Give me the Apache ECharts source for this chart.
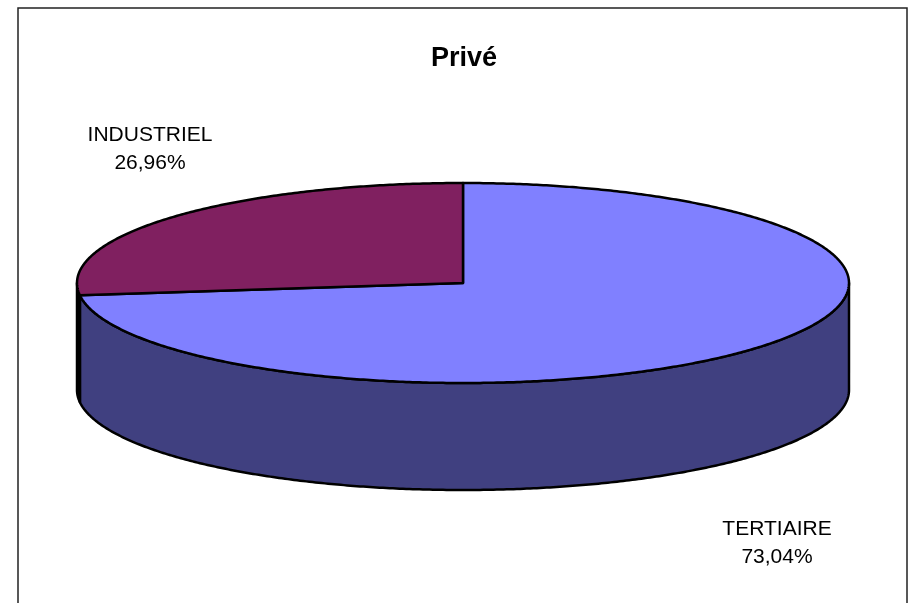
<!DOCTYPE html>
<html><head><meta charset="utf-8">
<style>html,body{margin:0;padding:0;background:#fff}#c{width:912px;height:603px}</style>
<script src="https://cdn.jsdelivr.net/npm/echarts@6/dist/echarts.min.js"></script>
</head><body><div id="c"></div>
<script>
const categories = ['TERTIAIRE', 'INDUSTRIEL'];
const values = [73.04, 26.96];
const valueLabels = ['73,04%', '26,96%'];
const titleText = 'Privé';

const topColors = ['#8080FF', '#802060'];
const wallColors = ['#404080', '#000000'];
const labelCentres = [[777, 543], [150, 149]];
const CX = 463, CY = 283, RX = 386, RY = 100, DEPTH = 107;
const FONT = '"Liberation Sans", Arial, sans-serif';
const LABEL_SIZE = 21;

const total = values.reduce((a, b) => a + b, 0);
const pt = (deg, dz) => {
  const r = deg * Math.PI / 180;
  return [CX + RX * Math.sin(r), CY - RY * Math.cos(r) + dz];
};
const arc = (a, b, dz) => {
  const out = [], n = Math.max(2, Math.ceil(Math.abs(b - a) * 2));
  for (let i = 0; i <= n; i++) out.push(pt(a + (b - a) * i / n, dz));
  return out;
};
const stroke = { stroke: '#000', lineWidth: 2.5, lineJoin: 'round' };

const renderItem = (params, api) => {
  const i = params.dataIndex;
  const start = values.slice(0, i).reduce((a, b) => a + b, 0) / total * 360;
  const end = start + api.value(0) / total * 360;
  const children = [];
  const w0 = Math.max(start, 90), w1 = Math.min(end, 270);
  if (w1 > w0) {
    children.push({
      type: 'polygon',
      shape: { points: arc(w0, w1, 0).concat(arc(w1, w0, DEPTH)) },
      style: Object.assign({ fill: wallColors[i] }, stroke)
    });
  }
  children.push({
    type: 'polygon',
    shape: { points: [[CX, CY]].concat(arc(start, end, 0)) },
    style: Object.assign({ fill: topColors[i] }, stroke)
  });
  children.push({
    type: 'text',
    style: {
      x: labelCentres[i][0], y: labelCentres[i][1],
      text: categories[i] + '\n' + valueLabels[i],
      align: 'center', verticalAlign: 'middle',
      font: LABEL_SIZE + 'px ' + FONT, lineHeight: 28, fill: '#000'
    }
  });
  return { type: 'group', children };
};

const chart = echarts.init(document.getElementById('c'), null, { renderer: 'canvas' });
chart.setOption({
  animation: false,
  backgroundColor: '#fff',
  title: {
    text: titleText, left: 459, top: 40, textAlign: 'center',
    textStyle: { fontFamily: FONT, fontSize: 27, fontWeight: 'bold', color: '#000' }
  },
  graphic: [{
    type: 'rect', silent: true,
    shape: { x: 18, y: 8, width: 889, height: 620 },
    style: { fill: 'none', stroke: '#222', lineWidth: 1.5 }
  }],
  series: [{
    type: 'custom', coordinateSystem: 'none', renderItem,
    data: values.map((v, i) => ({ name: categories[i], value: [v] }))
  }]
});
</script></body></html>
